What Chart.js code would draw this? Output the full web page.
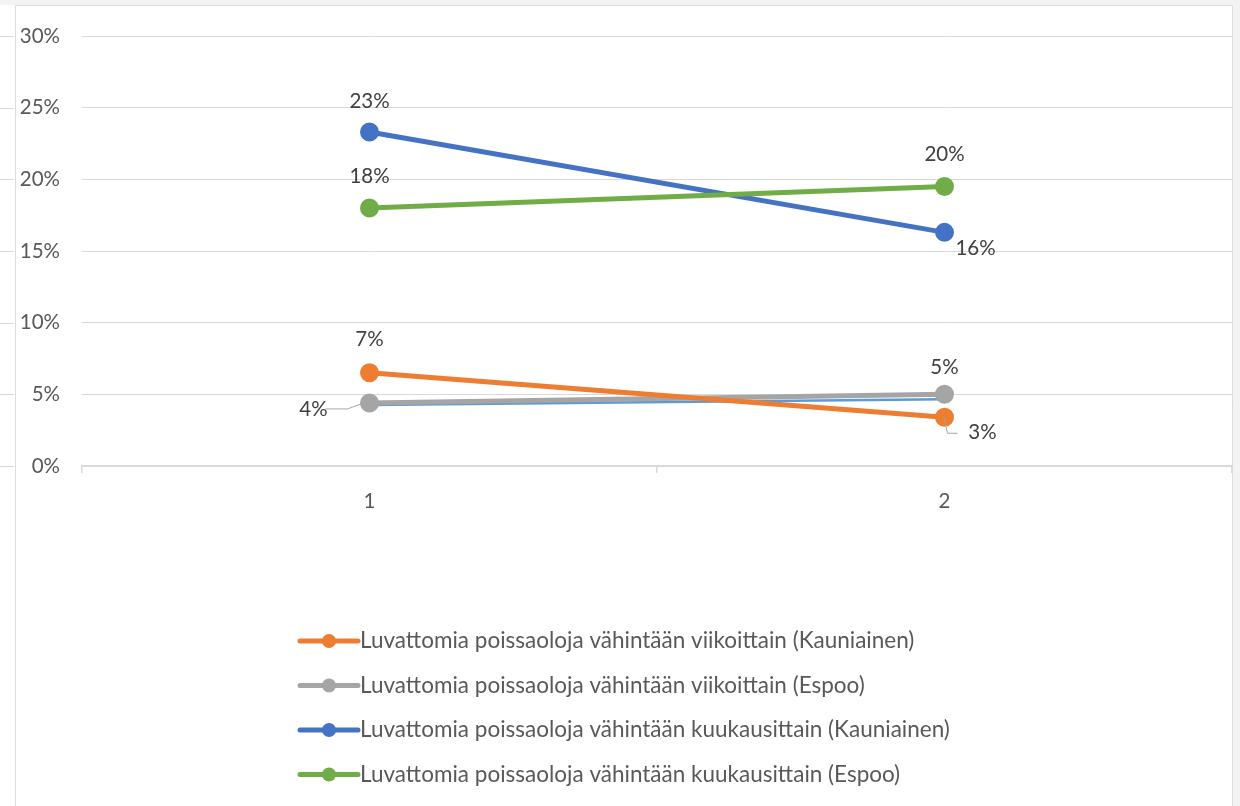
<!DOCTYPE html>
<html>
<head>
<meta charset="utf-8">
<script src="https://cdn.jsdelivr.net/npm/chart.js@4.4.1/dist/chart.umd.min.js"></script>
<style>
  html, body { margin: 0; padding: 0; background: #ffffff; }
  #wrap { width: 1240px; height: 806px; }
</style>
</head>
<body>
<div id="wrap"><canvas id="chart" width="1240" height="806"></canvas></div>
<script>
// Data (percent values)
const categories = ['1', '2'];
const weeklyKauniainen = [6.5, 3.4];
const weeklyEspoo = [4.4, 5.0];
const monthlyKauniainen = [23.3, 16.3];
const monthlyEspoo = [18.0, 19.5];
const hiddenSeries = [4.25, 4.65];
const yTicks = [0, 5, 10, 15, 20, 25, 30];

const seriesNames = [
    'Luvattomia poissaoloja vähintään viikoittain (Kauniainen)',
    'Luvattomia poissaoloja vähintään viikoittain (Espoo)',
    'Luvattomia poissaoloja vähintään kuukausittain (Kauniainen)',
    'Luvattomia poissaoloja vähintään kuukausittain (Espoo)'
];

const COLORS = {
    orange: '#ED7D31',
    gray: '#A5A5A5',
    blue: '#4472C4',
    green: '#70AD47',
    lightBlue: '#5B9BD5',
    grid: '#D9D9D9',
    text: '#595959',
    label: '#404040'
};

const FONT = 'Lato, "Open Sans", sans-serif';

/**
 * Label placement per dataset/point: dx, dy from point, text alignment, optional leader line
 */
const labelPlacement = [
    [{ dx: 0, dy: -33, align: 'center' }, { dx: 38, dy: 15, align: 'center', leader: [[0, 2], [3, 16], [13, 16]] }],
    [{ dx: -56, dy: 6, align: 'center', leader: [[-44, 6], [-22, 6], [-6, 0]] }, { dx: 0, dy: -27, align: 'center' }],
    [{ dx: 0, dy: -31, align: 'center' }, { dx: 31, dy: 16, align: 'center' }],
    [{ dx: 0, dy: -32, align: 'center' }, { dx: 0, dy: -32, align: 'center' }]
];

function createLineDataset(label, data, color, customConfig = {}) {
    return {
        label: label,
        data: data,
        borderColor: color,
        backgroundColor: color,
        pointBackgroundColor: color,
        pointBorderColor: color,
        borderWidth: 5,
        pointRadius: 7,
        pointHoverRadius: 7,
        tension: 0,
        fill: false,
        ...customConfig
    };
}

// Frame around the chart like the Excel chart area
const framePlugin = {
    id: 'frame',
    beforeDraw(chart) {
        const ctx = chart.ctx;
        const y = chart.scales.y;
        ctx.save();
        ctx.fillStyle = '#F3F3F3';
        ctx.fillRect(0, 0, 1240, 5);
        ctx.fillRect(1233, 0, 7, 806);
        ctx.strokeStyle = '#DDDDDD';
        ctx.lineWidth = 1;
        ctx.beginPath();
        ctx.moveTo(15.5, 806);
        ctx.lineTo(15.5, 5.5);
        ctx.lineTo(1232.5, 5.5);
        ctx.lineTo(1232.5, 806);
        ctx.stroke();
        // gridline stubs left of the frame
        ctx.strokeStyle = COLORS.grid;
        yTicks.forEach(v => {
            const py = Math.round(y.getPixelForValue(v)) + 0.5;
            ctx.beginPath();
            ctx.moveTo(0, py);
            ctx.lineTo(14, py);
            ctx.stroke();
        });
        ctx.restore();
    }
};

// Data labels drawn next to the points
const dataLabelPlugin = {
    id: 'pointLabels',
    afterDatasetsDraw(chart) {
        const ctx = chart.ctx;
        ctx.save();
        ctx.font = '20.5px ' + FONT;
        ctx.fillStyle = COLORS.label;
        ctx.textBaseline = 'middle';
        labelPlacement.forEach((placements, di) => {
            const meta = chart.getDatasetMeta(di);
            placements.forEach((p, i) => {
                const el = meta.data[i];
                const value = chart.data.datasets[di].data[i];
                if (p.leader) {
                    ctx.strokeStyle = '#A6A6A6';
                    ctx.lineWidth = 1;
                    ctx.beginPath();
                    p.leader.forEach(([lx, ly], k) => {
                        const px = el.x + lx, py = el.y + ly;
                        if (k === 0) ctx.moveTo(px, py); else ctx.lineTo(px, py);
                    });
                    ctx.stroke();
                }
                ctx.textAlign = p.align;
                ctx.fillText(Math.round(value + 1e-9) + '%', el.x + p.dx, el.y + p.dy);
            });
        });
        ctx.restore();
    }
};

// Legend stacked vertically, left aligned
const legendPlugin = {
    id: 'stackedLegend',
    afterDraw(chart) {
        const ctx = chart.ctx;
        const x0 = 300, lineLen = 58, top = 641, step = 44.5;
        ctx.save();
        ctx.font = '22.5px ' + FONT;
        ctx.textBaseline = 'middle';
        ctx.textAlign = 'left';
        seriesNames.forEach((name, i) => {
            const ds = chart.data.datasets[i];
            const y = top + i * step;
            ctx.strokeStyle = ds.borderColor;
            ctx.lineWidth = 5;
            ctx.lineCap = 'round';
            ctx.beginPath();
            ctx.moveTo(x0, y);
            ctx.lineTo(x0 + lineLen, y);
            ctx.stroke();
            ctx.fillStyle = ds.borderColor;
            ctx.beginPath();
            ctx.arc(x0 + lineLen / 2, y, 7, 0, Math.PI * 2);
            ctx.fill();
            ctx.fillStyle = COLORS.text;
            ctx.fillText(name, x0 + lineLen + 2, y);
        });
        ctx.restore();
    }
};

const data = {
    labels: categories,
    datasets: [
        createLineDataset(seriesNames[0], weeklyKauniainen, COLORS.orange, { order: 1 }),
        createLineDataset(seriesNames[1], weeklyEspoo, COLORS.gray, { order: 2 }),
        createLineDataset(seriesNames[2], monthlyKauniainen, COLORS.blue, { order: 1 }),
        createLineDataset(seriesNames[3], monthlyEspoo, COLORS.green, { order: 0 }),
        createLineDataset('', hiddenSeries, COLORS.lightBlue, { order: 5, borderWidth: 2.5, pointRadius: 0 })
    ]
};

const options = {
    responsive: false,
    animation: false,
    layout: { autoPadding: false, padding: { top: 36, right: 8, left: 0, bottom: 0 } },
    plugins: {
        legend: { display: false },
        tooltip: { enabled: false },
        title: { display: false }
    },
    scales: {
        x: {
            offset: true,
            afterFit: (scale) => { scale.height = 340; },
            grid: {
                display: true,
                offset: true,
                drawOnChartArea: false,
                drawTicks: true,
                tickLength: 7,
                color: COLORS.grid,
                lineWidth: 1.5
            },
            border: { display: true, color: COLORS.grid, width: 1.5 },
            ticks: {
                color: COLORS.text,
                font: { family: FONT, size: 20.5 },
                padding: 16
            }
        },
        y: {
            min: 0,
            max: 30,
            afterFit: (scale) => { scale.width = 82; },
            afterBuildTicks: (scale) => { scale.ticks = yTicks.map(v => ({ value: v })); },
            grid: { color: COLORS.grid, drawTicks: false, lineWidth: 1 },
            border: { display: false },
            ticks: {
                color: COLORS.text,
                font: { family: FONT, size: 20.5 },
                padding: 22,
                callback: (v) => v + '%'
            }
        }
    }
};

new Chart(document.getElementById('chart').getContext('2d'), {
    type: 'line',
    data: data,
    options: options,
    plugins: [framePlugin, dataLabelPlugin, legendPlugin]
});
</script>
</body>
</html>
